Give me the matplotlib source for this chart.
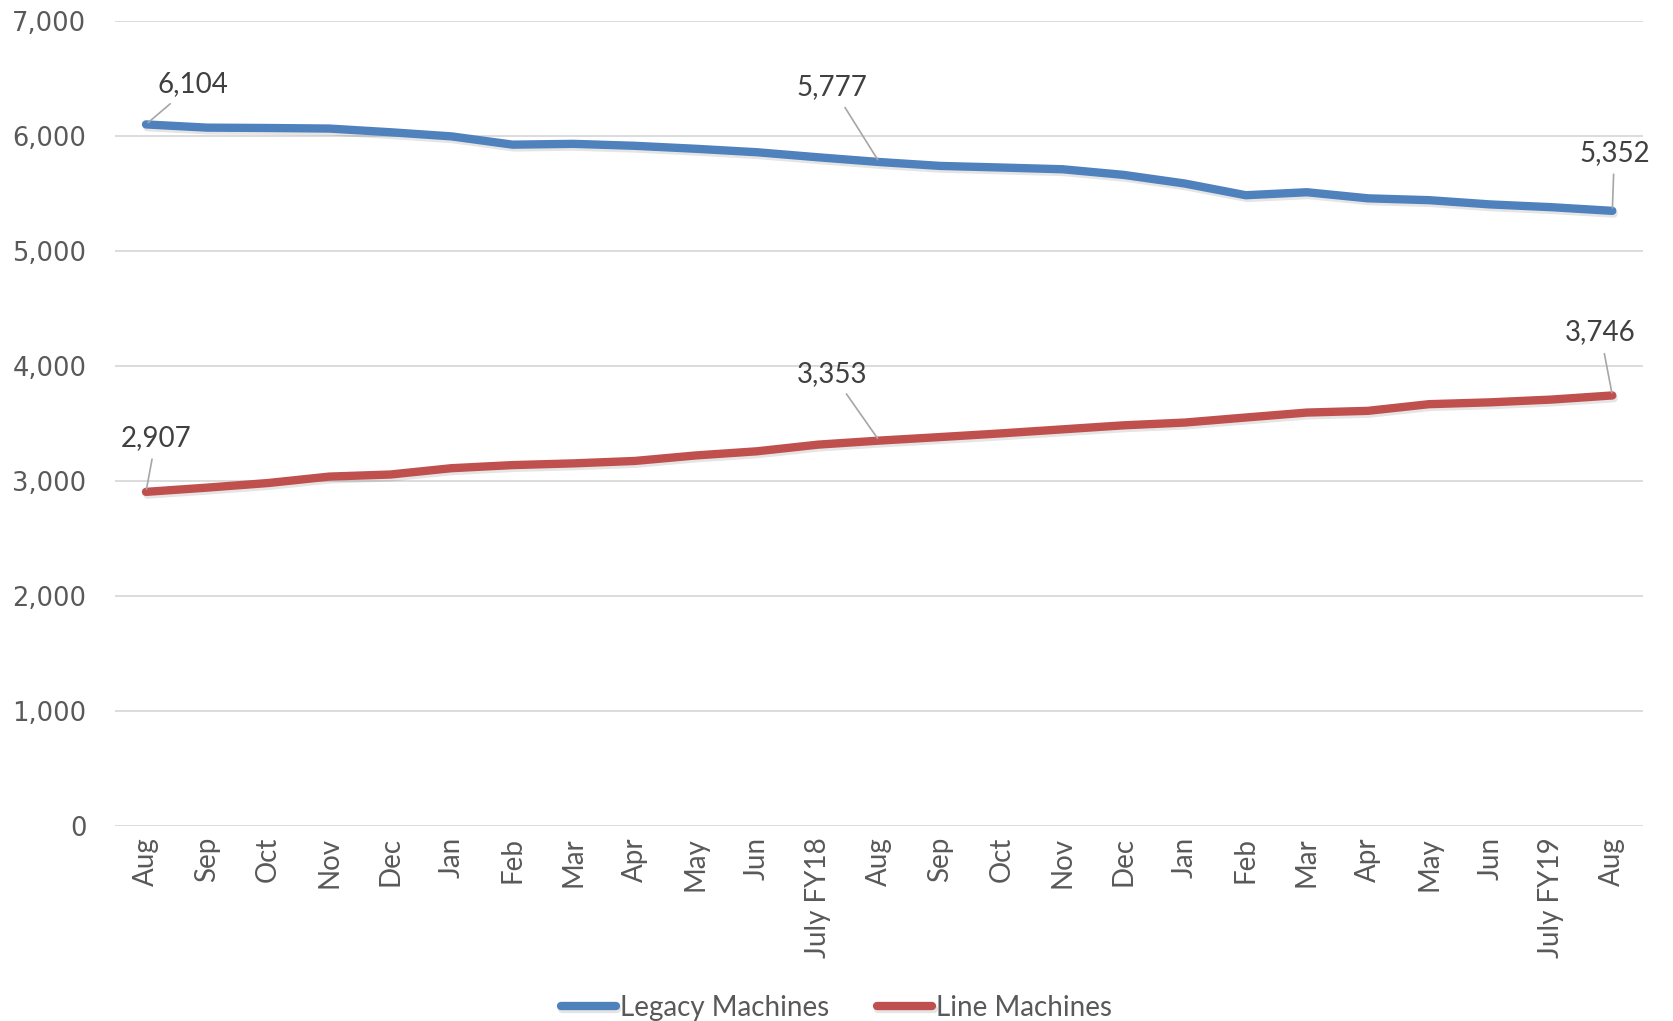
import matplotlib.pyplot as plt
import matplotlib.patheffects as pe
import numpy as np

# months (fiscal years marked on July)
months = ["Aug", "Sep", "Oct", "Nov", "Dec", "Jan", "Feb", "Mar", "Apr", "May", "Jun", "July FY18",
          "Aug", "Sep", "Oct", "Nov", "Dec", "Jan", "Feb", "Mar", "Apr", "May", "Jun", "July FY19", "Aug"]

legacy = [6104, 6076, 6073, 6068, 6036, 6000, 5928, 5935, 5918, 5892, 5862, 5818,
          5777, 5743, 5729, 5714, 5665, 5590, 5488, 5514, 5461, 5445, 5408, 5384, 5352]
line = [2907, 2944, 2984, 3040, 3058, 3113, 3140, 3155, 3176, 3224, 3260, 3318,
        3353, 3384, 3416, 3451, 3486, 3510, 3554, 3597, 3612, 3670, 3686, 3710, 3746]

# which points get a label, and where the label sits (pixels from the point)
labels_legacy = {0: (47, 40), 12: (-47, 75), 24: (2, 58)}
labels_line = {0: (10, 54), 12: (-47, 67), 24: (-12, 63)}

blue = "#4F81BD"
red = "#C0504D"
txt = "#404040"

plt.rcParams['font.family'] = ['Lato', 'DejaVu Sans']

fig = plt.figure(figsize=(16.73, 10.21), dpi=100)
ax = fig.add_axes([0.069, 0.191, 0.913, 0.788])

x = np.arange(len(months))
shadow = [pe.SimpleLineShadow(offset=(1, -2), shadow_color='k', alpha=0.1), pe.Normal()]
ax.plot(x, legacy, color=blue, lw=6, solid_capstyle='round', label="Legacy Machines", path_effects=shadow)
ax.plot(x, line, color=red, lw=6, solid_capstyle='round', label="Line Machines", path_effects=shadow)

for vals, lab in [(legacy, labels_legacy), (line, labels_line)]:
    for i, (dx, dy) in lab.items():
        ax.annotate(f"{vals[i]:,}", xy=(x[i], vals[i]), xytext=(dx, dy), textcoords='offset pixels',
                    ha='center', va='center', fontsize=20, color=txt,
                    arrowprops=dict(arrowstyle='-', color='#a6a6a6', lw=1.2, shrinkA=4, shrinkB=2))

ax.set_xlim(-0.5, len(months) - 0.5)
ax.set_ylim(0, 7000)
ax.set_yticks(np.arange(0, 7001, 1000))
ax.set_yticklabels([f"{v:,}" for v in range(0, 7001, 1000)], family='DejaVu Sans', fontsize=18.5, color='#595959')
ax.set_xticks(x)
ax.set_xticklabels(months, rotation=90, fontsize=20, color='#595959')
ax.tick_params(axis='y', length=0, pad=21)
ax.tick_params(axis='x', length=0, pad=8)
ax.grid(axis='y', color='#d9d9d9', lw=1.3)
ax.set_axisbelow(True)
for s in ax.spines.values():
    s.set_visible(False)

leg = fig.legend(loc='lower center', bbox_to_anchor=(0.5, -0.024), ncol=2, frameon=False, fontsize=20,
                 handlelength=2.0, handletextpad=0.15, columnspacing=1.7)
for t in leg.get_texts():
    t.set_color('#595959')

fig.savefig("out.png", dpi=100)
